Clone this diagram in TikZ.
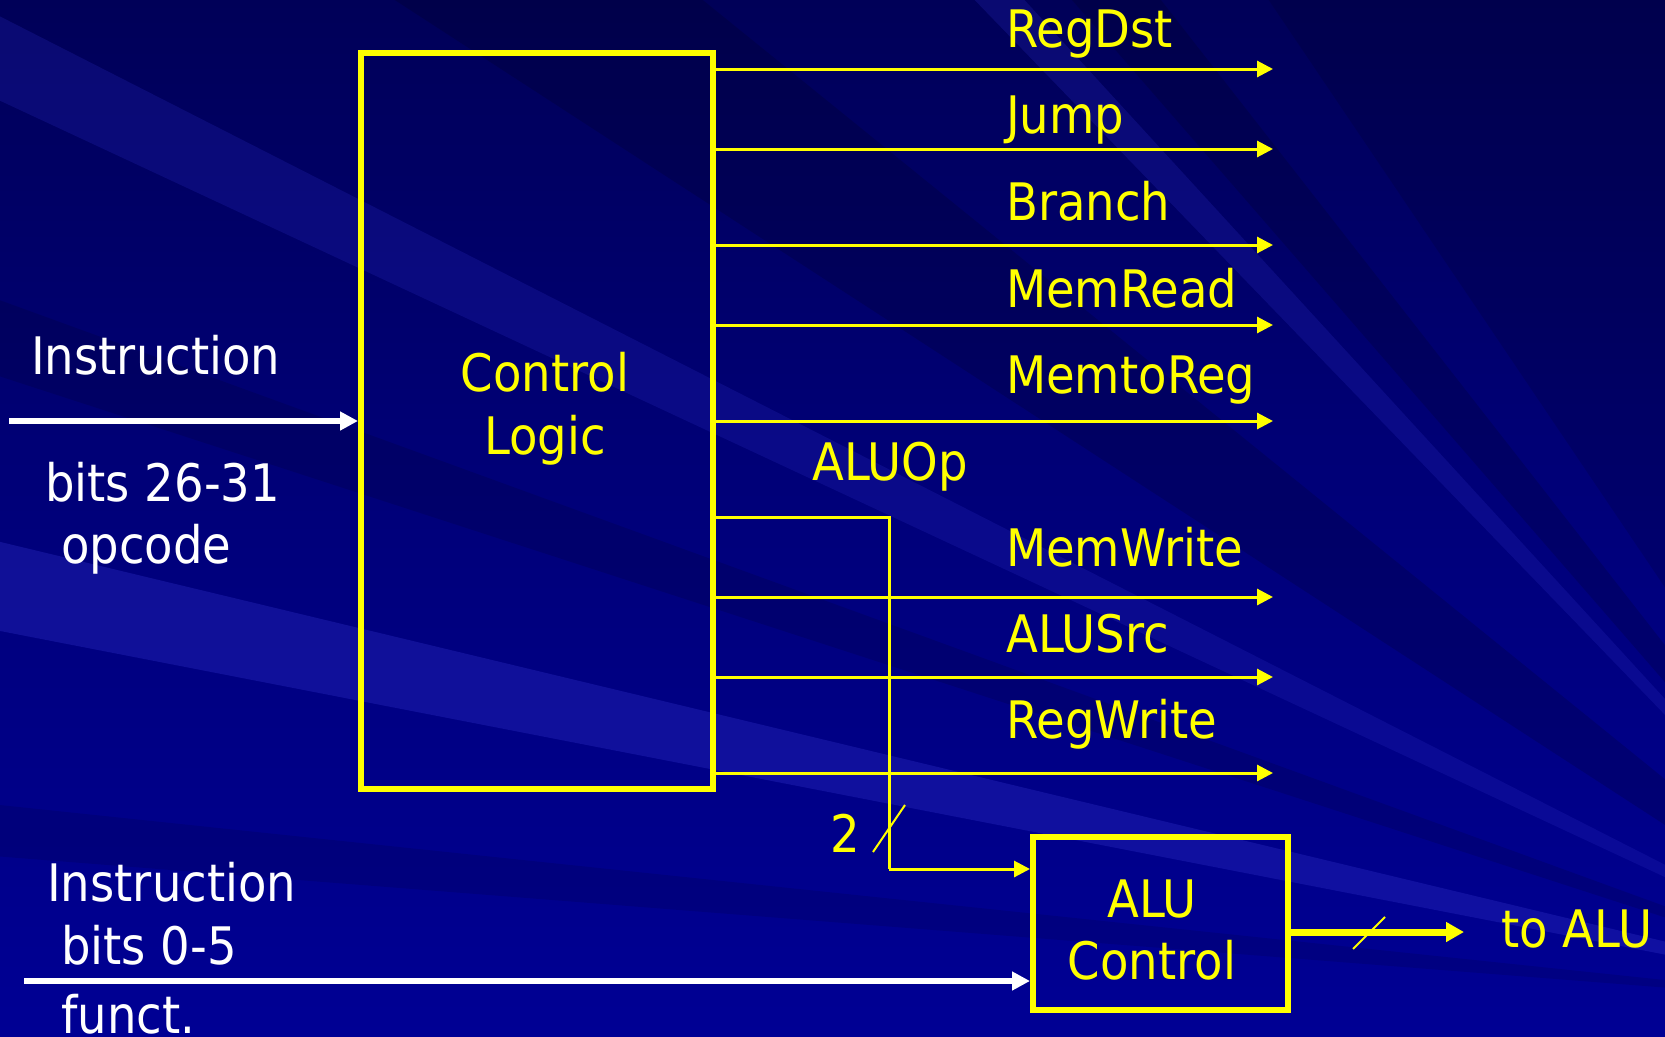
\documentclass[tikz,border=0pt]{standalone}
\usepackage{fontspec}
\setmainfont{DejaVu Sans}[FakeStretch=0.9]
\usetikzlibrary{arrows.meta}
\definecolor{bgdark}{RGB}{0,0,88}
\definecolor{bgmid}{RGB}{0,0,122}
\definecolor{bgbright}{RGB}{0,0,148}
\definecolor{bglight}{RGB}{40,40,190}
\definecolor{ylw}{RGB}{255,255,0}
\tikzset{
  lbl/.style={inner sep=0pt, anchor=base west, font=\fontsize{51.7}{62}\selectfont},
  ylbl/.style={lbl, text=ylw},
  wlbl/.style={lbl, text=white},
  clbl/.style={inner sep=0pt, anchor=base, text=ylw, font=\fontsize{51.7}{62}\selectfont},
  blockbox/.style={draw=ylw, line width=6pt, inner sep=0pt, rectangle},
  sig/.style={draw=ylw, line width=3pt, -{Triangle[length=16pt,width=16pt]}},
  wire/.style={draw=ylw, line width=3pt},
  wbus/.style={draw=white, line width=6pt, -{Triangle[length=18pt,width=18pt]}},
  ybus/.style={draw=ylw, line width=7pt, -{Triangle[length=18pt,width=19pt]}},
  slashmark/.style={draw=ylw, line width=2pt},
  dark/.style={fill=black, fill opacity=#1},
  light/.style={fill=bglight, fill opacity=#1}
}
\begin{document}
\begin{tikzpicture}[x=1pt,y=-1pt]
\useasboundingbox (0,0) rectangle (1665,1036);
% background
\begin{scope}
\clip (0,0) rectangle (1665,1036);
\shade[top color=bgdark, bottom color=bgbright, middle color=bgmid] (0,0) rectangle (1665,1036);
\coordinate (C) at (1950,1010);
\fill[dark=0.12] (C) -- +(236:3200) -- +(262:3200) -- cycle;
\fill[dark=0.15] (C) -- +(229:3200) -- +(232:3200) -- cycle;
\fill[light=0.25] (C) -- +(226:3200) -- +(227.5:3200) -- cycle;
\fill[dark=0.15] (C) -- +(213:3200) -- +(219:3200) -- cycle;
\fill[light=0.25] (C) -- +(205:3200) -- +(207:3200) -- cycle;
\fill[dark=0.12] (C) -- +(198:3200) -- +(200:3200) -- cycle;
\fill[light=0.4] (C) -- +(191:3200) -- +(193.5:3200) -- cycle;
\fill[dark=0.10] (C) -- +(184.5:3200) -- +(186:3200) -- cycle;
\end{scope}

% blocks
\node[blockbox, minimum width=352pt, minimum height=736pt] (ctrl) at (537,421) {};
\node[blockbox, minimum width=255pt, minimum height=173pt] (alu) at (1160.5,923.5) {};
\node[clbl] (ctrlA) at (545,391) {Control};
\node[clbl] (ctrlB) at (545,454) {Logic};
\node[clbl] (aluA) at (1152,917) {ALU};
\node[clbl] (aluB) at (1152,979) {Control};

% output signals
\coordinate (oRegDst) at (1273,69);
\coordinate (oJump) at (1273,149);
\coordinate (oBranch) at (1273,245);
\coordinate (oMemRead) at (1273,325);
\coordinate (oMemtoReg) at (1273,421);
\coordinate (oMemWrite) at (1273,597);
\coordinate (oALUSrc) at (1273,677);
\coordinate (oRegWrite) at (1273,773);
\foreach \c in {oRegDst,oJump,oBranch,oMemRead,oMemtoReg,oMemWrite,oALUSrc,oRegWrite}
  \draw[sig] (ctrl.east |- \c) -- (\c);

\node[ylbl] (lRegDst) at (1006,47) {RegDst};
\node[ylbl] (lJump) at (1006,133) {Jump};
\node[ylbl] (lBranch) at (1006,220) {Branch};
\node[ylbl] (lMemRead) at (1006,307) {MemRead};
\node[ylbl] (lMemtoReg) at (1006,393) {MemtoReg};
\node[ylbl] (lALUOp) at (812,480) {ALUOp};
\node[ylbl] (lMemWrite) at (1006,566) {MemWrite};
\node[ylbl] (lALUSrc) at (1006,652) {ALUSrc};
\node[ylbl] (lRegWrite) at (1006,738) {RegWrite};

% ALUOp path
\coordinate (bendTop) at (889,517);
\coordinate (bendBot) at (889,869);
\draw[wire] (ctrl.east |- bendTop) -- (bendTop) -- (bendBot);
\draw[sig] (bendBot) -- (alu.west |- bendBot);
\draw[slashmark] (873,852) -- (905,805);
\node[ylbl] (two) at (830,852) {2};

% inputs
\coordinate (inStart) at (9,421);
\draw[wbus] (inStart) -- (ctrl.west |- inStart);
\node[wlbl] (inA) at (31,374) {Instruction};
\node[wlbl] (inB) at (45,501) {bits 26-31};
\node[wlbl] (inC) at (61,563) {opcode};

\coordinate (fStart) at (24,981);
\draw[wbus] (fStart) -- (alu.west |- fStart);
\node[wlbl] (fA) at (47,901) {Instruction};
\node[wlbl] (fB) at (61,964) {bits 0-5};
\node[wlbl] (fC) at (61,1033) {funct.};

% to ALU
\coordinate (toEnd) at (1464,932);
\draw[ybus] (alu.east |- toEnd) -- (toEnd);
\draw[slashmark] (1353,949) -- (1385,917);
\node[ylbl] (toalu) at (1501,947) {to ALU};
\end{tikzpicture}
\end{document}
